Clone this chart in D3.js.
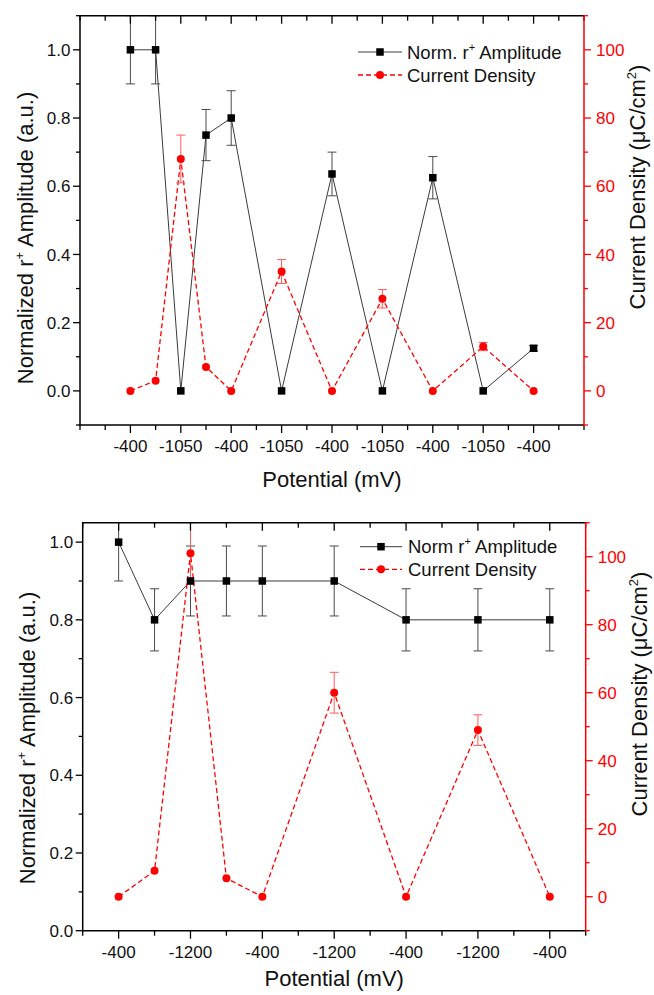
<!DOCTYPE html>
<html>
<head>
<meta charset="utf-8">
<script src="https://cdn.jsdelivr.net/npm/d3@7/dist/d3.min.js"></script>
<style>
  html, body { margin: 0; padding: 0; background: #fff; }
  svg { display: block; }
  text { font-family: Arial, "Liberation Sans", sans-serif; }
</style>
</head>
<body>
<svg id="fig" width="654" height="995"></svg>
<script>
// ---- Upper panel: -400 / -1050 mV steps ----
const topTickPos = [0, 2, 4, 6, 8, 10, 12, 14, 16];
const topTickLabels = ["-400", "-1050", "-400", "-1050", "-400", "-1050", "-400", "-1050", "-400"];
const topStep = [0, 1, 2, 3, 4, 6, 8, 10, 12, 14, 16];
const topAmp = [1.0, 1.0, 0.0, 0.75, 0.80, 0.0, 0.636, 0.0, 0.625, 0.0, 0.125];
const topAmpErr = [0.10, 0.10, 0, 0.075, 0.08, 0, 0.064, 0, 0.062, 0, 0.008];
const topCur = [0, 3, 68, 7, 0, 35, 0, 27, 0, 13, 0];
const topCurErr = [0, 0, 7, 0, 0, 3.5, 0, 2.7, 0, 1.2, 0];

// ---- Lower panel: -400 / -1200 mV steps ----
const botTickPos = [0, 2, 4, 6, 8, 10, 12];
const botTickLabels = ["-400", "-1200", "-400", "-1200", "-400", "-1200", "-400"];
const botStep = [0, 1, 2, 3, 4, 6, 8, 10, 12];
const botAmp = [1.0, 0.8, 0.9, 0.9, 0.9, 0.9, 0.8, 0.8, 0.8];
const botAmpErr = [0.10, 0.08, 0.09, 0.09, 0.09, 0.09, 0.08, 0.08, 0.08];
const botCur = [0, 7.6, 101, 5.4, 0, 60, 0, 49, 0];
const botCurErr = [0, 0, 9, 0, 0, 6, 0, 4.5, 0];

const svg = d3.select("#fig");
const RED = "#ff0000";

function drawPanel(cfg) {
  const g = svg.append("g");
  const x = d3.scaleLinear().domain(cfg.xDomain).range([cfg.left, cfg.right]);
  const yL = d3.scaleLinear().domain(cfg.yDomain).range([cfg.bottom, cfg.top]);
  const yR = d3.scaleLinear().domain([-10, 110]).range([cfg.bottom, cfg.top]);

  const clipId = "clip" + cfg.id;
  svg.append("clipPath").attr("id", clipId).append("rect")
    .attr("x", cfg.left).attr("y", cfg.top)
    .attr("width", cfg.right - cfg.left).attr("height", cfg.bottom - cfg.top);

  const plot = g.append("g").attr("clip-path", `url(#${clipId})`);

  const amp = cfg.step.map((s, i) => ({ x: s, y: cfg.amp[i], e: cfg.ampErr[i] }));
  const cur = cfg.step.map((s, i) => ({ x: s, y: cfg.cur[i], e: cfg.curErr[i] }));

  // connecting lines
  plot.append("path").datum(amp)
    .attr("d", d3.line().x(d => x(d.x)).y(d => yL(d.y)))
    .attr("fill", "none").attr("stroke", "#3a3a3a").attr("stroke-width", 1);
  plot.append("path").datum(cur)
    .attr("d", d3.line().x(d => x(d.x)).y(d => yR(d.y)))
    .attr("fill", "none").attr("stroke", RED).attr("stroke-width", 1.3)
    .attr("stroke-dasharray", "5,3");

  // error bars
  function errBars(data, ys, color) {
    const eb = plot.append("g").attr("stroke", color).attr("stroke-width", 1).attr("fill", "none");
    data.filter(d => d.e > 0).forEach(d => {
      const cx = x(d.x), y1 = ys(d.y + d.e), y0 = ys(d.y - d.e);
      eb.append("line").attr("x1", cx).attr("x2", cx).attr("y1", y1).attr("y2", y0);
      eb.append("line").attr("x1", cx - 4.5).attr("x2", cx + 4.5).attr("y1", y1).attr("y2", y1);
      eb.append("line").attr("x1", cx - 4.5).attr("x2", cx + 4.5).attr("y1", y0).attr("y2", y0);
    });
  }
  errBars(amp, yL, "#4a4a4a");
  errBars(cur, yR, "#ff5a5a");

  // markers
  plot.append("g").selectAll("rect").data(amp).join("rect")
    .attr("x", d => x(d.x) - 3.75).attr("y", d => yL(d.y) - 3.75)
    .attr("width", 7.5).attr("height", 7.5).attr("fill", "#000");
  plot.append("g").selectAll("circle").data(cur).join("circle")
    .attr("cx", d => x(d.x)).attr("cy", d => yR(d.y)).attr("r", 4)
    .attr("fill", RED);

  // ---- axes ----
  const allX = d3.range(cfg.xDomain[0], cfg.xDomain[1] + 1);
  const axG = g.append("g");
  // bottom and top x axes
  const xb = axG.append("g").attr("stroke", "#000").attr("stroke-width", 1.3);
  allX.forEach(v => {
    const major = cfg.tickPos.includes(v);
    const len = major ? 8 : 5;
    xb.append("line").attr("x1", x(v)).attr("x2", x(v))
      .attr("y1", cfg.bottom).attr("y2", cfg.bottom + len);
    xb.append("line").attr("x1", x(v)).attr("x2", x(v))
      .attr("y1", cfg.top).attr("y2", cfg.top + len);
  });
  axG.append("line").attr("x1", cfg.left - 0.7).attr("x2", cfg.right)
    .attr("y1", cfg.bottom).attr("y2", cfg.bottom).attr("stroke", "#000").attr("stroke-width", 1.5);
  axG.append("line").attr("x1", cfg.left).attr("x2", cfg.right)
    .attr("y1", cfg.top).attr("y2", cfg.top).attr("stroke", "#000").attr("stroke-width", 1.5);
  axG.append("g").selectAll("text").data(cfg.tickPos).join("text")
    .attr("x", d => x(d)).attr("y", cfg.bottom + 27)
    .attr("text-anchor", "middle").attr("font-size", 17).attr("fill", "#111")
    .text((d, i) => cfg.tickLabels[i]);

  // left y axis
  axG.append("line").attr("x1", cfg.left).attr("x2", cfg.left)
    .attr("y1", cfg.top - 0.7).attr("y2", cfg.bottom + 0.7).attr("stroke", "#000").attr("stroke-width", 1.5);
  const yMin = Math.round(cfg.yDomain[0] * 10), yMax = Math.floor(cfg.yDomain[1] * 10 + 1e-9);
  const yl = axG.append("g").attr("stroke", "#000").attr("stroke-width", 1.3);
  d3.range(yMin, yMax + 1).forEach(k => {
    const major = k % 2 === 0;
    yl.append("line").attr("x1", cfg.left).attr("x2", cfg.left - (major ? 7 : 4))
      .attr("y1", yL(k / 10)).attr("y2", yL(k / 10));
  });
  axG.append("g").selectAll("text").data(cfg.yTicks).join("text")
    .attr("x", cfg.left - 9.5).attr("y", d => yL(d)).attr("dy", "0.36em")
    .attr("text-anchor", "end").attr("font-size", 17).attr("fill", "#111")
    .text(d => d3.format(".1f")(d));

  // right y axis (red)
  axG.append("line").attr("x1", cfg.right).attr("x2", cfg.right)
    .attr("y1", cfg.top - 0.7).attr("y2", cfg.bottom + 0.7).attr("stroke", RED).attr("stroke-width", 1.5);
  const yr = axG.append("g").attr("stroke", RED).attr("stroke-width", 1.3);
  d3.range(-10, 111, 10).forEach(v => {
    const major = v % 20 === 0;
    yr.append("line").attr("x1", cfg.right).attr("x2", cfg.right + (major ? 7 : 4))
      .attr("y1", yR(v)).attr("y2", yR(v));
  });
  axG.append("g").selectAll("text").data(d3.range(0, 101, 20)).join("text")
    .attr("x", cfg.right + 12).attr("y", d => yR(d)).attr("dy", "0.36em")
    .attr("text-anchor", "start").attr("font-size", 17).attr("fill", RED)
    .text(d => d);

  // axis titles
  g.append("text")
    .attr("x", (cfg.left + cfg.right) / 2).attr("y", cfg.bottom + cfg.xTitleGap)
    .attr("text-anchor", "middle").attr("font-size", 22).attr("fill", "#111")
    .text("Potential (mV)");

  const lt = g.append("text")
    .attr("transform", `translate(${cfg.leftTitle[0]},${cfg.leftTitle[1]}) rotate(-90)`)
    .attr("text-anchor", "middle").attr("font-size", 22).attr("fill", "#111");
  lt.append("tspan").text("Normalized r");
  lt.append("tspan").attr("font-size", 13).attr("dy", -9).text("+");
  lt.append("tspan").attr("dy", 9).text(" Amplitude (a.u.)");

  const rt = g.append("text")
    .attr("transform", `translate(${cfg.rightTitle[0]},${cfg.rightTitle[1]}) rotate(-90)`)
    .attr("text-anchor", "middle").attr("font-size", 22).attr("fill", "#111");
  rt.append("tspan").text("Current Density (\u03BCC/cm");
  rt.append("tspan").attr("font-size", 13).attr("dy", -9).text("2");
  rt.append("tspan").attr("dy", 9).text(")");

  // legend
  const lg = g.append("g");
  const [lx0, lx1, tx] = cfg.legendX;
  const [r1, r2] = cfg.legendY;
  lg.append("line").attr("x1", lx0).attr("x2", lx1).attr("y1", r1).attr("y2", r1)
    .attr("stroke", "#3a3a3a").attr("stroke-width", 1);
  lg.append("rect").attr("x", (lx0 + lx1) / 2 - 3.75).attr("y", r1 - 3.75)
    .attr("width", 7.5).attr("height", 7.5).attr("fill", "#000");
  lg.append("line").attr("x1", lx0).attr("x2", lx1).attr("y1", r2).attr("y2", r2)
    .attr("stroke", RED).attr("stroke-width", 1.3).attr("stroke-dasharray", "5,3");
  lg.append("circle").attr("cx", (lx0 + lx1) / 2).attr("cy", r2).attr("r", 4).attr("fill", RED);

  const t1 = lg.append("text").attr("x", tx).attr("y", r1).attr("dy", "0.36em")
    .attr("font-size", 18.5).attr("fill", "#111");
  t1.append("tspan").text(cfg.ampName);
  t1.append("tspan").attr("font-size", 11).attr("dy", -8).text("+");
  t1.append("tspan").attr("dy", 8).text(" Amplitude");
  lg.append("text").attr("x", tx).attr("y", r2).attr("dy", "0.36em")
    .attr("font-size", 18.5).attr("fill", "#111").text("Current Density");
}

drawPanel({
  id: "a", left: 80, right: 584, top: 15.7, bottom: 425,
  xDomain: [-2, 18], yDomain: [-0.1, 1.1],
  yTicks: [0, 0.2, 0.4, 0.6, 0.8, 1.0],
  tickPos: topTickPos, tickLabels: topTickLabels,
  step: topStep, amp: topAmp, ampErr: topAmpErr, cur: topCur, curErr: topCurErr,
  leftTitle: [33, 238], rightTitle: [645, 187], xTitleGap: 61.5,
  legendX: [358, 402, 407], legendY: [52, 75], ampName: "Norm. r"
});

drawPanel({
  id: "b", left: 82.7, right: 585.7, top: 522.7, bottom: 930.7,
  xDomain: [-1, 13], yDomain: [0, 1.05],
  yTicks: [0, 0.2, 0.4, 0.6, 0.8, 1.0],
  tickPos: botTickPos, tickLabels: botTickLabels,
  step: botStep, amp: botAmp, ampErr: botAmpErr, cur: botCur, curErr: botCurErr,
  leftTitle: [35, 738], rightTitle: [647, 694], xTitleGap: 55.5,
  legendX: [360, 402, 408], legendY: [546.7, 569.3], ampName: "Norm r"
});
</script>
</body>
</html>
